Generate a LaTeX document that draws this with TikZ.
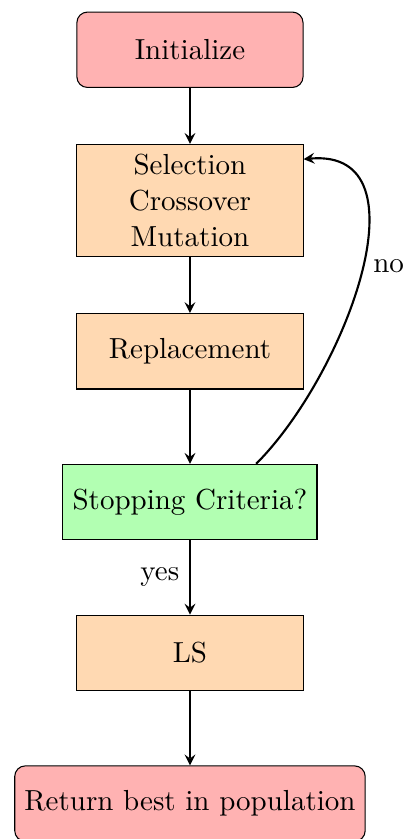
\documentclass[tikz,border=0pt,11pt]{standalone}
\usepackage{tikz}
\usetikzlibrary{positioning,arrows}

\tikzset{
  startstop/.style={rectangle, rounded corners, minimum width=3cm, minimum height=1cm, align=center, draw=black, fill=red!30},
  process/.style={rectangle, minimum width=3cm, minimum height=1cm, align=center, draw=black, fill=orange!30},
  decision/.style={rectangle, minimum width=3cm, minimum height=1cm, align=center, draw=black, fill=green!30},
  arrow/.style={thick,->,>=stealth}
}

\begin{document}
\begin{tikzpicture}[node distance=2cm, on grid]
   \useasboundingbox (-2.52,0.66) rectangle (2.85,-10.47);

   \node (init) [startstop] {Initialize};
   \node (sel) [process, below=of init] {Selection\\Crossover\\Mutation};
   \node (repl) [process, below=of sel] {Replacement};
   \node (stop) [decision, below=of repl] {Stopping Criteria?};
   \node (ls) [process, below=of stop] {LS};
   \node (ret) [startstop, below=of ls] {Return best in population};

   \draw[arrow] (init) -- (sel);
   \draw[arrow] (sel) -- (repl);
   \draw[arrow] (repl) -- (stop);
   \draw[arrow] (stop) -- node[left] {yes} (ls);
   \draw[arrow] (ls) -- (ret);
   % back to the loop
   \draw[arrow] (stop.30) to[out=45, in=5, looseness=1.05] node[right, pos=0.52] {no} (sel.20);
\end{tikzpicture}
\end{document}
